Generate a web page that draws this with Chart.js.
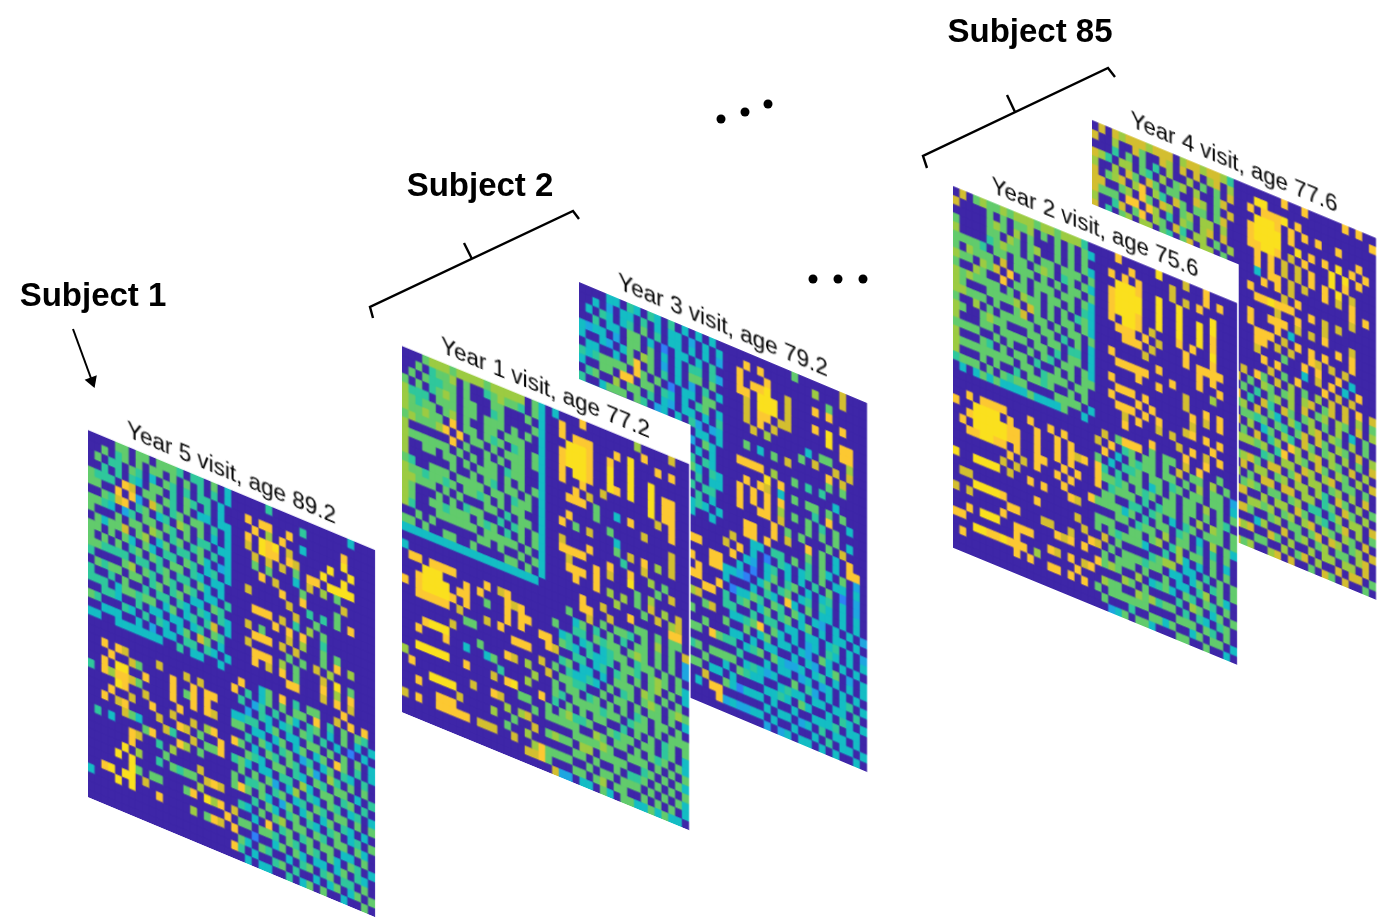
<!DOCTYPE html>
<html lang="en">
<head>
<meta charset="UTF-8">
<title>Subject visits</title>
<script src="https://cdn.jsdelivr.net/npm/chart.js@4.4.2/dist/chart.umd.min.js"></script>
<style>
  html, body { margin: 0; background: #fff; overflow: hidden; }
  canvas { position: absolute; left: 0; top: 0; transform-origin: 0 0; }
</style>
</head>
<body>
<script>
// each matrix is symmetric, so only three blocks are kept per visit
// '.' is 0, then 1 (blue) up to 9 (yellow). a and c are upper triangles, blanks are the mirrored part
const year1a = [
"...566656666566666.53",
" .5.4556.5..456554.53",
"  .54455.5...55...5.3",
"   .4565.55..45....53",
"    .555.55.555.5.5.3",
"     .56.5..55.555..3",
"      .8.55.545.45.53",
"       .8.55.5.555.53",
"        .5..5.5.55..3",
"         .5.55.455..3",
"          .555.5.5.53",
"           .54.55.5.3",
"            .55.455.3",
"             .5.55..3",
"              .4.55.3",
"               .45.53",
"                .5.53",
"                 .5.3",
"                  .53",
"                   .3",
"                    ."
];
const year1b = [
".3...8.......6....7..",
"..8...........8......",
"..8.888...8.9...8.8..",
"...9998..8..9........",
"..89998..9..9..9.....",
"..89998..9..9..9.88..",
"..8.998..98.9..9.88..",
"..8..8..7......9.88..",
"....8.7.........7.8..",
"...888.5..3.8.....8..",
".......5......7......",
"...8.....5........7..",
"..8.5.7...3.......7..",
"..........5.7.8.6.7..",
"..7...8....4..7......",
"..8888...8..8..6.5...",
"...7...8.7..9...5.7..",
"...888.8.....5.6.....",
"....8..8.6.6.5.7.6.7.",
"..........6...5.7.67.",
".....8..7...8.....88."
];
const year1c = [
".....88..7...55.5.55.",
" ..5..7.5.554.5.6.5.7",
"  ..35.4.5.4.55.5.5.2",
"   .44.5455.565.5.5.2",
"    .34.3455.455.5.5.",
"     .4334.554.565.53",
"      .34.45.5.56.5.3",
"       .3.555.65.5.5.",
"        .5.45.565.565",
"         .55.5.55.5.3",
"          .5.45.55.5.",
"           .455.5.555",
"            .5.5.45.5",
"             .55.45.3",
"              .545.53",
"               .5.5.5",
"                .5.53",
"                 .5.5",
"                  .53",
"                   .3",
"                    ."
];

const year2a = [
".7.56556566656656664.4",
" ....5.5.556.5.5.5.53",
"  ...565.6.5...5.5.5.",
"   ..55.65.56..5.5.53",
"    .45655.5.55.555.5",
"     .55.55.565.45.53",
"      .7.555.5.5.55.5",
"       .8.5.555.55.53",
"        .55.5.55.5.43",
"         .655.5.5.453",
"          .75.5.55.53",
"           .55.5.55.5",
"            .55.4.5.3",
"             .55.44.3",
"              .4.55.3",
"               .55.53",
"                .5.55",
"                 .55.",
"                  .5.",
"                   .3",
"                    ."
];
const year2b = [
"...8.....9...7..8....",
".....8.....7....8.8..",
"..8.8.8....7.7.8.....",
"...9998..9..9....9...",
"..89999..9..9..9.9...",
"..89999..9..9..9.8...",
"..89998..9..9..9.8...",
"..8.998.7...8.8..9...",
"...888.8.7...8...8...",
"....888.7....8.8888..",
".......7.......8.8...",
"..8......8.....8..8..",
"...88888...8.....6...",
"......8..8...7.......",
"..8..........7..8.8..",
"...888.8......8.7.8..",
"..8...8.8.....7......",
"...888.8.8...78.8.8..",
"....7.8..7.7.....8...",
"....8.......7.8.7.8..",
"........8....8..8...."
];
const year2c = [
".7.5888.5.55.7.8..5..",
" .8.45.55.5.7.55.6.5.",
"  .3.5455.55.5.6.55.2",
"   .445.55.45.55.55.3",
"    .55.35.5.55.6.5.5",
"     .545.55.55.5.54.",
"      .4.455.5.6.65.5",
"       .45.3.45.555.5",
"        .55.45.3.6.53",
"         .6.55.4.4.5.",
"          .46.55.5.3.",
"           .63.3.5.5.",
"            .33.4.5.5",
"             .35.45.5",
"              .46.53.",
"               .54.5.",
"                .35.5",
"                 .45.",
"                  .5.",
"                   .3",
"                    ."
];

const year3a = [
"....33.43.43.4.3.3.3.",
" .3.2.33.4.3.33.2.3.3",
"  .43.34.5.4.33.3.3.2",
"   .33.55.3.1.33.3.4.",
"    .2.55.5.3.3.44.42",
"     .35.65.2.3.55.5.",
"      .58.5.4.3.2.4.3",
"       .85.5.1.33.55.",
"        .55.43.3.45.3",
"         .4.32.33.3.4",
"          .23.3.42.23",
"           .3.34.33.3",
"            .43.2.53.",
"             .33.3.3.",
"              .34.43.",
"               .53.43",
"                .4.33",
"                 .44.",
"                  .3.",
"                   .3",
"                    ."
];
const year3b = [
"..........5......7...",
"...8.8.......6...7...",
"..8...8........5.....",
"..8.889..7...8.8.....",
"..88.999.7.......8...",
"...7.999.7...8.9.....",
"...7.88.77.....9.88..",
"...7.8.7.........88..",
"....7.6.....3.55..6..",
"...........5.7..7.7..",
"...5.3.5.7.....8.7...",
"...............5.5...",
"..8888.6..5.4.4......",
"......9.8.......3....",
"...8.87.3.5.55.5.5...",
"..8.8.8.8....4.8..3..",
"..8.8.8.6.5.5.4.5....",
"..8..88.7...5.5.5.3..",
".......8.5.5...5.7...",
"...88..8.7..8.5.3.8..",
"...88.8.....5.5.3.88."
];
const year3c = [
".7..33.44.5.4.53.5.2.",
" .8.3.1.43.34.5.33.3.",
"  .32.34.3.3.4.5.1.2.",
"   .1.35.45.3.34.3.2.",
"    .35.45.34.43.3.3.",
"     .43.83.5.33.3.3.",
"      .54.53.32.3.3.2",
"       .45.35.3.33.3.",
"        .33.33.34.3.2",
"         .3.23.43.3.3",
"          .32.53.3.3.",
"           .32.35.2.3",
"            .34.3.3.3",
"             .23.3.3.",
"              .3.34.3",
"               .33.4.",
"                .43.3",
"                 .33.",
"                  .3.",
"                   .3",
"                    ."
];

const year4a = [
".7.767776777.67767764.",
" ..6..75..76.7.7.67.6",
"  .4.5.5.4.6..6.5.5.7",
"   .66.54.6.56.6..57.",
"    .75.75.55..76.5.7",
"     .68.64.75.55.57.",
"      .85.76.56.66.6.",
"       .86.4.65.67.7.",
"        .65.74.66.5.6",
"         .54.57.66.5.",
"          .65.75.45.7",
"           .4.55.67.6",
"            .57.66.4.",
"             .77.56.5",
"              .65.67.",
"               .56.4.",
"                .75.6",
"                 .65.",
"                  .5.",
"                   .6",
"                    ."
];
const year4b = [
".......8..8.....8.8..",
"...99...............8",
"..8.8889.8...........",
"...9998.8.8.8..8.....",
"..89999.8.........8..",
"..89999..9.8.8.9.8.8.",
"..88998.7.8...9.9.8..",
"...8.8.7.7.8..9.8....",
"...8.8.7.7.8.8.9.7...",
"...3.88.7.7..8.7.8...",
"....8.8.7........8.8.",
"..8....7.8.......7...",
"...889888..8.7.7.....",
"......7..8...7.......",
"..8..888.7.7.8...7...",
"..8...8.3......8.8...",
"...888.7.8.8.8...8...",
"...88.7.7..87.7.7....",
"...7...5..8.8..8.3...",
"....8.8...3.7.8.3.8..",
".....7.5.8...8.7.7..."
];
const year4c = [
".7.85.7.6.5.6.7.7.8.7",
" .5.65.56.67.57.7.6.5",
"  .4.56.6.7.56.65.7.6",
"   .74.75.56.5.6.3.5.",
"    .53.64.67.65.6.5.",
"     .54.57.75.65.7.6",
"      .64.75.56.6.5.7",
"       .86.67.65.7.6.",
"        .65.75.65.6.7",
"         .76.67.55.5.",
"          .66.56.6.7.",
"           .64.75.6.5",
"            .45.75.6.",
"             .46.66.7",
"              .57.6.5",
"               .65.7.",
"                .56.7",
"                 .67.",
"                  .7.",
"                   .5",
"                    ."
];

const year5a = [
"....55.55.5554.44.5.3",
" .5.45.5.55.5.5.4.4.3",
"  .44.54.3.54.4.44.3.",
"   .4.43.55.4.54.4.3.",
"    .87.55.54.5.33.33",
"     .82.75.45.55.4.3",
"      .45.34.65.5.3.3",
"       .55.54.5.44.33",
"        .65.45.45.4.3",
"         .35.44.53.23",
"          .44.54.34.3",
"           .55.43.33.",
"            .44.53.3.",
"             .54.33.4",
"              .33.54.",
"               .43.43",
"                .47.3",
"                 .54.",
"                  .3.",
"                   .3",
"                    ."
];
const year5b = [
".....4...........3...",
"..........4..........",
"..8.88..8.......8....",
"...8.6.8..3.....9....",
"..8.989.7.....9..9...",
"..7.988.87...9..9....",
"...7.7.7.5.88.9999...",
"...5.5...3.7.6.5.....",
"....8.7...5.....7....",
".......8..8....5.....",
"..7.....7..4.4.5.8...",
".........7..5.......",
"...888.7.4.6.5.......",
"......8.8.8..4.......",
"..7.5...7.6..5.5.....",
"...888.7.7...5.8.6...",
"..7.....5.5.7.6......",
"...888.6.5...7.9.5...",
"...8.7.8.5...8.6.8...",
"........88...7.8.7...",
"................8...."
];
const year5c = [
".8..35.8.4.55..7.8.8.",
" .4.35.5.55.8.4.5.54.",
"  .24.4.53.45.3.5.3.3",
"   .43.34.54.4.3.1.3.",
"    .35.33.55.5.5.5.3",
"     .35.35.35.85.4.3",
"      .45.24.35.43.4.",
"       .54.52.64.5.5.",
"        .43.54.55.3.4",
"         .63.55.45.4.",
"          .43.54.34.3",
"           .54.55.5.5",
"            .35.43.3.",
"             .45.34.5",
"              .55.53.",
"               .33.5.",
"                .54.3",
"                 .43.",
"                  .5.",
"                   .5",
"                    ."
];

const visitTitles = ["Year 5 visit, age 89.2", "Year 3 visit, age 79.2", "Year 1 visit, age 77.2", "Year 4 visit, age 77.6", "Year 2 visit, age 75.6"];
const visitBlocks = [[year5a, year5b, year5c], [year3a, year3b, year3c], [year1a, year1b, year1c], [year4a, year4b, year4c], [year2a, year2b, year2c]];

// where each sheet lands on the page: left, top, width, height, drop of the top edge
const sheets = [
  [88, 430, 287, 367, 120],
  [579, 282, 288, 369, 121],
  [402, 346, 287, 366, 118],
  [1092, 120, 284, 362, 118],
  [953, 186, 284, 362, 117]
];

const subjectLabels = ["Subject 1", "Subject 2", "Subject 85"];
const subjectAnchors = [[93, 306], [480, 196], [1030, 42]];
const bracketTwo = [[373, 318], [370, 307], [573, 211], [579, 219]];
const bracketTwoTick = [[464, 243], [472, 259]];
const bracketEnd = [[927, 168], [923, 156], [1108, 68], [1115, 77]];
const bracketEndTick = [[1007, 95], [1015, 112]];
const arrowLine = [[73, 329], [92, 381]];
const dotsUpper = [[721, 119], [745, 112], [768, 104]];
const dotsLower = [[813, 279], [838, 279], [863, 279]];

const colours = ["#3e26a8", "#2f80f5", "#1ea6e0", "#14bdc4", "#2fc79c", "#62cb6c", "#9ccb42", "#d3be30", "#fcc832", "#fae01e"];
const SIZE = 42, HALF = 21, CELL_W = 7, CELL_H = 9, TITLE_H = 41;

Chart.defaults.font.family = "'Liberation Sans', Arial, sans-serif";

function buildMatrix(a, b, c) {
  const m = [];
  for (let i = 0; i < SIZE; i++) m.push(new Array(SIZE).fill(0));
  const put = (i, j, ch) => {
    const v = ch === '.' || ch === ' ' || ch === undefined ? 0 : +ch;
    m[i][j] = v;
    m[j][i] = v;
  };
  for (let r = 0; r < HALF; r++) {
    for (let k = r; k < HALF; k++) put(r, k, a[r][k]);
    for (let k = 0; k < HALF; k++) put(r, HALF + k, b[r][k]);
    for (let k = r; k < HALF; k++) put(HALF + r, HALF + k, c[r][k]);
  }
  return m;
}

function drawSheet(title, blocks, sheet) {
  const m = buildMatrix(blocks[0], blocks[1], blocks[2]);
  const cv = document.createElement('canvas');
  cv.width = SIZE * CELL_W + 2;
  cv.height = SIZE * CELL_H + TITLE_H;
  document.body.appendChild(cv);

  const sx = sheet[2] / (SIZE * CELL_W), sy = sheet[3] / (SIZE * CELL_H), drop = sheet[4] / (SIZE * CELL_W);
  cv.style.transform = `matrix(${sx}, ${drop}, 0, ${sy}, ${sheet[0]}, ${sheet[1] - sy * TITLE_H})`;

  const labels = [];
  for (let j = 0; j < SIZE; j++) labels.push(j);

  new Chart(cv, {
    type: 'bar',
    data: {
      labels: labels,
      datasets: m.map(row => ({
        data: row.map(() => 1),
        backgroundColor: row.map(v => colours[v]),
        borderWidth: 0,
        barPercentage: 1,
        categoryPercentage: 1
      }))
    },
    options: {
      responsive: false,
      animation: false,
      devicePixelRatio: 1,
      layout: { padding: { right: 2 } },
      plugins: {
        legend: { display: false },
        tooltip: { enabled: false },
        title: {
          display: true,
          text: title,
          color: '#000',
          font: { size: 23, lineHeight: 1, weight: 'normal' },
          padding: { top: 13, bottom: 5 }
        }
      },
      scales: {
        x: { stacked: true, display: false },
        y: { stacked: true, display: false, reverse: true, min: 0, max: SIZE }
      }
    },
    plugins: [{
      id: 'whiteBack',
      beforeDraw(chart) {
        chart.ctx.fillStyle = '#fff';
        chart.ctx.fillRect(0, 0, chart.width, chart.height);
      }
    }]
  });
}

sheets.forEach((s, i) => drawSheet(visitTitles[i], visitBlocks[i], s));

// brackets, arrow, dots and subject names sit on a page sized chart on top
const xy = list => list.map(p => ({ x: p[0], y: p[1] }));
const lineSet = list => ({ data: xy(list), showLine: true, borderColor: '#000', borderWidth: 2.4, pointRadius: 0, tension: 0 });
const dotSet = list => ({ data: xy(list), showLine: false, pointRadius: 4.5, backgroundColor: '#000', borderWidth: 0 });

const overlay = document.createElement('canvas');
overlay.width = 1378;
overlay.height = 921;
overlay.style.zIndex = 5;
document.body.appendChild(overlay);

new Chart(overlay, {
  type: 'scatter',
  data: {
    datasets: [
      lineSet(bracketTwo), lineSet(bracketTwoTick), lineSet(bracketEnd), lineSet(bracketEndTick),
      {
        data: xy(arrowLine), showLine: true, borderColor: '#000', borderWidth: 2, backgroundColor: '#000',
        pointStyle: 'triangle', pointRadius: [0, 7.5], pointRotation: [0, 160], pointBorderWidth: 0
      },
      dotSet(dotsUpper), dotSet(dotsLower)
    ]
  },
  options: {
    responsive: false,
    animation: false,
    devicePixelRatio: 1,
    layout: { padding: 0, autoPadding: false },
    plugins: { legend: { display: false }, tooltip: { enabled: false } },
    scales: {
      x: { type: 'linear', display: false, min: 0, max: 1378 },
      y: { type: 'linear', display: false, reverse: true, min: 0, max: 921 }
    }
  },
  plugins: [{
    id: 'subjectNames',
    afterDatasetsDraw(chart) {
      const ctx = chart.ctx;
      ctx.save();
      ctx.fillStyle = '#000';
      ctx.font = "bold 33px 'Liberation Sans', Arial, sans-serif";
      ctx.textAlign = 'center';
      subjectLabels.forEach((t, i) => {
        ctx.fillText(t, chart.scales.x.getPixelForValue(subjectAnchors[i][0]), chart.scales.y.getPixelForValue(subjectAnchors[i][1]));
      });
      ctx.restore();
    }
  }]
});
</script>
</body>
</html>
